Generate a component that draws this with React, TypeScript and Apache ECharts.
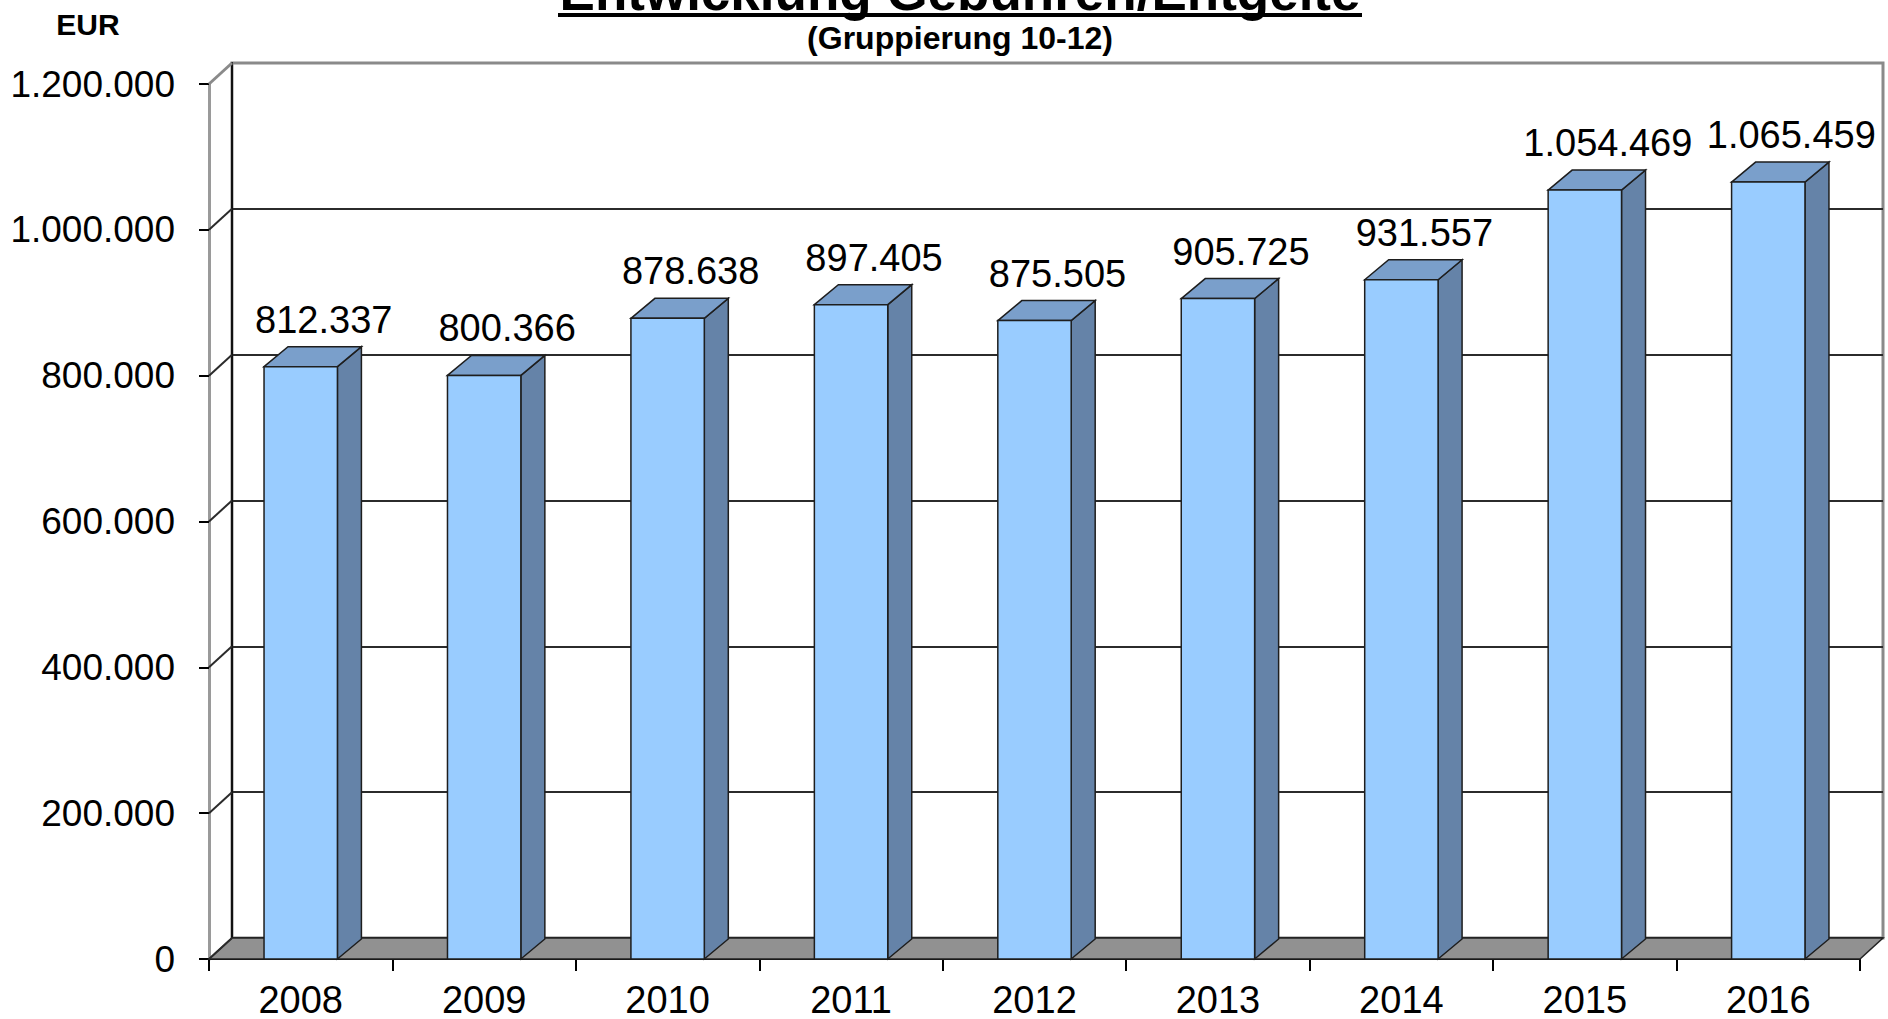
import React, { useEffect, useRef } from "react";
import * as echarts from "echarts";

const years = ["2008", "2009", "2010", "2011", "2012", "2013", "2014", "2015", "2016"];
const values = [812337, 800366, 878638, 897405, 875505, 905725, 931557, 1054469, 1065459];
const yTicks = [0, 200000, 400000, 600000, 800000, 1000000, 1200000];
const titleText = "Entwicklung Gebühren/Entgelte";
const subtitleText = "(Gruppierung 10-12)";
const unitText = "EUR";

const FONT = "'Liberation Sans', Arial, Helvetica, sans-serif";
const DX = 23;
const DY = -21;
const BDX = 24;
const BDY = -20;

function fmt(v: number): string {
  return String(Math.round(v)).replace(/\B(?=(\d{3})+(?!\d))/g, ".");
}

export default function App() {
  const ref = useRef<HTMLDivElement>(null);
  useEffect(() => {
    if (!ref.current) return;
    const chart = echarts.init(ref.current, null, { renderer: "svg" });
    const splitColors = yTicks.map((_, i) => (i === yTicks.length - 1 ? "#8a8a8a" : "#2b2b2b"));
    const option: any = {
      animation: false,
      backgroundColor: "#ffffff",
      textStyle: { fontFamily: FONT },
      grid: [
        { left: 209, right: 28, top: 84, bottom: 60, containLabel: false },
        {
          left: 232, right: 5, top: 63, bottom: 81, containLabel: false,
          show: true, borderColor: "#8a8a8a", borderWidth: 3, backgroundColor: "transparent",
        },
      ],
      xAxis: [
        {
          type: "category", data: years, gridIndex: 0, boundaryGap: true,
          axisLine: { show: true, lineStyle: { color: "#000", width: 2 } },
          axisTick: { show: true, length: 12, lineStyle: { color: "#000", width: 2 } },
          axisLabel: { fontSize: 38, color: "#000", margin: 22, fontFamily: FONT },
          splitLine: { show: false },
        },
        { type: "category", data: years, gridIndex: 1, show: false },
      ],
      yAxis: [
        {
          type: "value", gridIndex: 0, min: 0, max: 1200000, interval: 200000,
          axisLine: { show: true, lineStyle: { color: "#9a9a9a", width: 3 } },
          axisTick: { show: true, length: 10, lineStyle: { color: "#000", width: 2 } },
          axisLabel: { fontSize: 37, color: "#000", margin: 34, fontFamily: FONT, formatter: (v: number) => fmt(v) },
          splitLine: { show: false },
        },
        {
          type: "value", gridIndex: 1, min: 0, max: 1200000, interval: 200000,
          axisLine: { show: true, lineStyle: { color: "#111", width: 2 } },
          axisTick: { show: false },
          axisLabel: { show: false },
          splitLine: { show: true, lineStyle: { color: splitColors, width: 2 } },
        },
      ],
      series: [
        {
          type: "custom", name: "floor", xAxisIndex: 0, yAxisIndex: 0, z: 1, silent: true, clip: false,
          data: [[0, 0]],
          renderItem: (params: any, api: any) => {
            const cs = params.coordSys;
            const y0 = api.coord([0, 0])[1];
            const x0 = cs.x;
            const x1 = cs.x + cs.width;
            return {
              type: "polygon",
              shape: { points: [[x0, y0], [x1, y0], [x1 + DX, y0 + DY], [x0 + DX, y0 + DY]] },
              style: { fill: "#919191", stroke: "#222", lineWidth: 1.5 },
            };
          },
        },
        {
          type: "custom", name: "wall", xAxisIndex: 0, yAxisIndex: 0, z: 1, silent: true, clip: false,
          data: yTicks.map((v) => [0, v]),
          renderItem: (params: any, api: any) => {
            const cs = params.coordSys;
            const y = api.coord([0, api.value(1)])[1];
            const isTop = params.dataIndex === yTicks.length - 1;
            return {
              type: "line",
              shape: { x1: cs.x, y1: y, x2: cs.x + DX, y2: y + DY },
              style: { stroke: isTop ? "#8a8a8a" : "#2b2b2b", lineWidth: isTop ? 3 : 2 },
            };
          },
        },
        {
          type: "custom", name: "bars", xAxisIndex: 0, yAxisIndex: 0, z: 3, clip: false,
          data: values.map((v, i) => [i, v]),
          renderItem: (params: any, api: any) => {
            const i = api.value(0);
            const v = api.value(1);
            const top = api.coord([i, v]);
            const base = api.coord([i, 0]);
            const w = api.size([1, 0])[0] * 0.4;
            const xl = top[0] - w / 2;
            const xr = top[0] + w / 2;
            const yt = top[1];
            const yb = base[1];
            const edge = { stroke: "#1e1e1e", lineWidth: 1.5 };
            return {
              type: "group",
              children: [
                {
                  type: "polygon",
                  shape: { points: [[xr, yt], [xr + BDX, yt + BDY], [xr + BDX, yb + BDY], [xr, yb]] },
                  style: { fill: "#6583a8", ...edge },
                },
                {
                  type: "polygon",
                  shape: { points: [[xl, yt], [xl + BDX, yt + BDY], [xr + BDX, yt + BDY], [xr, yt]] },
                  style: { fill: "#7a9fcb", ...edge },
                },
                {
                  type: "rect",
                  shape: { x: xl, y: yt, width: w, height: yb - yt },
                  style: { fill: "#99ccff", ...edge },
                },
                {
                  type: "text",
                  x: top[0] + 23,
                  y: yt + BDY - 27,
                  style: {
                    text: fmt(v), fill: "#000", fontSize: 38, fontFamily: FONT,
                    align: "center", verticalAlign: "middle",
                    textAlign: "center", textVerticalAlign: "middle",
                  },
                },
              ],
            };
          },
        },
      ],
      graphic: [
        {
          type: "text", x: 960, y: -9,
          style: {
            text: titleText, fill: "#000", fontSize: 53, fontWeight: "bold", fontFamily: FONT,
            align: "center", verticalAlign: "middle", textAlign: "center", textVerticalAlign: "middle",
          },
        },
        {
          type: "line",
          shape: { x1: 558, y1: 15, x2: 1362, y2: 15 },
          style: { stroke: "#000", lineWidth: 4 },
        },
        {
          type: "text", x: 960, y: 38,
          style: {
            text: subtitleText, fill: "#000", fontSize: 32, fontWeight: "bold", fontFamily: FONT,
            align: "center", verticalAlign: "middle", textAlign: "center", textVerticalAlign: "middle",
          },
        },
        {
          type: "text", x: 88, y: 24,
          style: {
            text: unitText, fill: "#000", fontSize: 30, fontWeight: "bold", fontFamily: FONT,
            align: "center", verticalAlign: "middle", textAlign: "center", textVerticalAlign: "middle",
          },
        },
      ],
    };
    chart.setOption(option);
    return () => chart.dispose();
  }, []);
  return (
    <div
      ref={ref}
      style={{ position: "absolute", left: 0, top: 0, width: 1888, height: 1019, background: "#fff" }}
    />
  );
}
